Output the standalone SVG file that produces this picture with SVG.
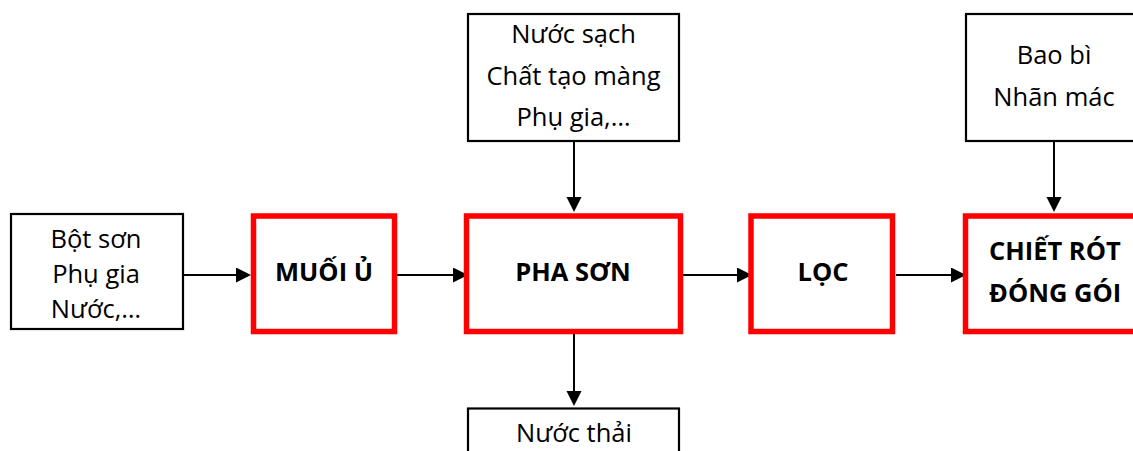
<svg xmlns="http://www.w3.org/2000/svg" width="1133" height="451" viewBox="0 0 1133 451">
  <style>
    .in { fill: #ffffff; stroke: #000000; stroke-width: 2.2; }
    .step { fill: #ffffff; stroke: #ff0000; stroke-width: 5.5; }
    .t { font-family: "Open Sans", "Noto Sans", "DejaVu Sans", sans-serif; font-size: 25.5px; fill: #000000; text-anchor: middle; }
    .b { font-family: "Open Sans", "Noto Sans", "DejaVu Sans", sans-serif; font-size: 25.5px; font-weight: bold; fill: #000000; text-anchor: middle; }
    .l { text-anchor: start; }
    .c { stroke: #000000; stroke-width: 2; fill: none; marker-end: url(#ah); }
  </style>
  <defs>
    <marker id="ah" markerUnits="userSpaceOnUse" markerWidth="16" markerHeight="16" refX="7" refY="7.5" orient="auto" viewBox="0 0 16 16">
      <path d="M0,0 L15,7.5 L0,15 Z" fill="#000000"/>
    </marker>
  </defs>
  <rect width="1133" height="451" fill="#ffffff"/>

  <g id="connectors">
    <line class="c" x1="184" y1="275" x2="243" y2="275"/>
    <line class="c" x1="397" y1="275" x2="460" y2="275"/>
    <line class="c" x1="683" y1="275" x2="744" y2="275"/>
    <line class="c" x1="896" y1="275" x2="958" y2="275"/>
    <line class="c" x1="574" y1="141" x2="574" y2="204"/>
    <line class="c" x1="574" y1="334" x2="574" y2="398"/>
    <line class="c" x1="1054" y1="142" x2="1054" y2="204"/>
  </g>

  <g id="input-left">
    <rect class="in" x="11" y="214" width="172" height="115"/>
    <text class="t" x="96" y="248">Bột sơn</text>
    <text class="t" x="96" y="283">Phụ gia</text>
    <text class="t" x="96" y="318">Nước,…</text>
  </g>

  <g id="input-top">
    <rect class="in" x="468" y="14" width="211" height="127"/>
    <text class="t" x="573.5" y="43">Nước sạch</text>
    <text class="t" x="573.5" y="85">Chất tạo màng</text>
    <text class="t" x="573.5" y="126">Phụ gia,…</text>
  </g>

  <g id="input-packaging">
    <rect class="in" x="966" y="14" width="200" height="127"/>
    <text class="t" x="1054" y="64">Bao bì</text>
    <text class="t" x="1054" y="106">Nhãn mác</text>
  </g>

  <g id="output-waste">
    <rect class="in" x="468" y="408.5" width="211" height="60"/>
    <text class="t" x="574" y="442">Nước thải</text>
  </g>

  <g id="muoi-u">
    <rect class="step" x="253.5" y="216" width="141" height="115.5"/>
    <text class="b" x="324" y="281">MUỐI Ủ</text>
  </g>

  <g id="pha-son">
    <rect class="step" x="466.5" y="216" width="214" height="115.5"/>
    <text class="b" x="573" y="281">PHA SƠN</text>
  </g>

  <g id="loc">
    <rect class="step" x="751" y="216" width="141.5" height="115.5"/>
    <text class="b" x="823" y="281">LỌC</text>
  </g>

  <g id="chiet-rot">
    <rect class="step" x="965.5" y="216" width="200" height="115.5"/>
    <text class="b l" x="989" y="260">CHIẾT RÓT</text>
    <text class="b l" x="989" y="302">ĐÓNG GÓI</text>
  </g>
</svg>
